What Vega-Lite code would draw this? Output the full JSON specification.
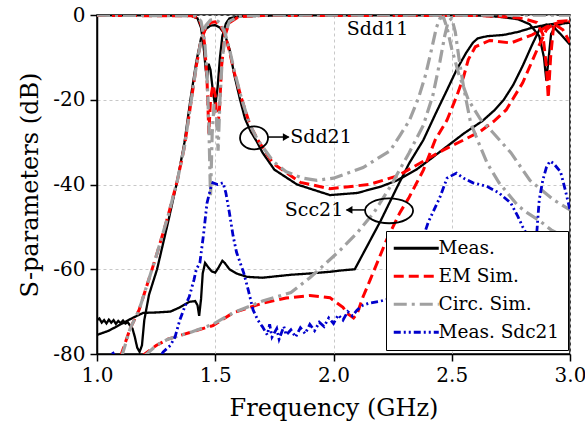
{
"$schema":"https://vega.github.io/schema/vega-lite/v6.json",
"width":473,"height":339,
"autosize":{"type":"none"},
"padding":{"left":97,"top":15,"right":15,"bottom":78},
"background":"white",
"config":{
 "font":"DejaVu Serif",
 "view":{"stroke":"black","strokeWidth":1.5},
 "axis":{"labelFont":"DejaVu Serif","titleFont":"DejaVu Serif","labelFontSize":20,"titleFontSize":24,"titleFontWeight":"normal","labelColor":"black","titleColor":"black","domainColor":"black","domainWidth":1.5,"tickColor":"black","tickWidth":1.5,"tickSize":7,"gridColor":"#c8c8c8","gridDash":[3,3],"gridWidth":1,"labelFlush":false}
},
"datasets":{
"series":[
{"c":"m11","g":"Meas."},{"c":"m21","g":"Meas."},{"c":"mc","g":"Meas."},
{"c":"e11","g":"EM Sim."},{"c":"e21","g":"EM Sim."},{"c":"ec","g":"EM Sim."},
{"c":"c11","g":"Circ. Sim."},{"c":"c21","g":"Circ. Sim."},{"c":"cc","g":"Circ. Sim."},
{"c":"b","g":"Meas. Sdc21"}],
"pts":[
{"c":"m11","f":1.0,"s":-0.1},{"c":"m11","f":1.2,"s":-0.1},{"c":"m11","f":1.4,"s":-0.2},{"c":"m11","f":1.425,"s":-0.8},{"c":"m11","f":1.44,"s":-3},{"c":"m11","f":1.45,"s":-7},{"c":"m11","f":1.46,"s":-13},{"c":"m11","f":1.465,"s":-15},{"c":"m11","f":1.472,"s":-11.5},{"c":"m11","f":1.48,"s":-13},{"c":"m11","f":1.49,"s":-18},{"c":"m11","f":1.5,"s":-21.5},{"c":"m11","f":1.51,"s":-17},{"c":"m11","f":1.52,"s":-10},{"c":"m11","f":1.53,"s":-5},{"c":"m11","f":1.545,"s":-2},{"c":"m11","f":1.56,"s":-0.8},{"c":"m11","f":1.6,"s":-0.3},{"c":"m11","f":1.8,"s":-0.1},{"c":"m11","f":2.6,"s":-0.1},{"c":"m11","f":2.7,"s":-0.4},{"c":"m11","f":2.78,"s":-1},{"c":"m11","f":2.83,"s":-2.2},{"c":"m11","f":2.87,"s":-5},{"c":"m11","f":2.89,"s":-10},{"c":"m11","f":2.9,"s":-15.5},{"c":"m11","f":2.91,"s":-10},{"c":"m11","f":2.92,"s":-4.5},{"c":"m11","f":2.94,"s":-2.5},{"c":"m11","f":2.97,"s":-2},{"c":"m11","f":3.0,"s":-1.8},
{"c":"m21","f":1.0,"s":-72},{"c":"m21","f":1.01,"s":-71.6},{"c":"m21","f":1.02,"s":-72.6},{"c":"m21","f":1.03,"s":-72},{"c":"m21","f":1.04,"s":-72.8},{"c":"m21","f":1.05,"s":-71.9},{"c":"m21","f":1.06,"s":-72.6},{"c":"m21","f":1.07,"s":-72},{"c":"m21","f":1.08,"s":-72.9},{"c":"m21","f":1.09,"s":-72.2},{"c":"m21","f":1.1,"s":-72.7},{"c":"m21","f":1.11,"s":-72.1},{"c":"m21","f":1.12,"s":-72.8},{"c":"m21","f":1.13,"s":-72.5},{"c":"m21","f":1.14,"s":-73.3},{"c":"m21","f":1.15,"s":-74},{"c":"m21","f":1.16,"s":-76},{"c":"m21","f":1.17,"s":-78.5},{"c":"m21","f":1.18,"s":-79.5},{"c":"m21","f":1.19,"s":-78},{"c":"m21","f":1.2,"s":-72},{"c":"m21","f":1.22,"s":-66},{"c":"m21","f":1.254,"s":-60},{"c":"m21","f":1.3,"s":-49},{"c":"m21","f":1.34,"s":-39},{"c":"m21","f":1.37,"s":-30},{"c":"m21","f":1.395,"s":-20},{"c":"m21","f":1.42,"s":-11},{"c":"m21","f":1.44,"s":-5.5},{"c":"m21","f":1.46,"s":-3.3},{"c":"m21","f":1.48,"s":-2.5},{"c":"m21","f":1.5,"s":-2.4},{"c":"m21","f":1.52,"s":-3},{"c":"m21","f":1.54,"s":-4.5},{"c":"m21","f":1.56,"s":-8},{"c":"m21","f":1.58,"s":-14},{"c":"m21","f":1.605,"s":-20},{"c":"m21","f":1.626,"s":-24.5},{"c":"m21","f":1.65,"s":-27.5},{"c":"m21","f":1.677,"s":-30},{"c":"m21","f":1.7,"s":-32.5},{"c":"m21","f":1.75,"s":-36.5},{"c":"m21","f":1.846,"s":-40},{"c":"m21","f":1.985,"s":-42.5},{"c":"m21","f":2.1,"s":-42},{"c":"m21","f":2.2,"s":-40.5},{"c":"m21","f":2.27,"s":-39},{"c":"m21","f":2.35,"s":-36.5},{"c":"m21","f":2.41,"s":-34},{"c":"m21","f":2.48,"s":-31},{"c":"m21","f":2.55,"s":-28},{"c":"m21","f":2.63,"s":-25},{"c":"m21","f":2.68,"s":-22.5},{"c":"m21","f":2.72,"s":-20},{"c":"m21","f":2.76,"s":-16.5},{"c":"m21","f":2.8,"s":-12},{"c":"m21","f":2.84,"s":-7},{"c":"m21","f":2.87,"s":-3.5},{"c":"m21","f":2.9,"s":-2.3},{"c":"m21","f":2.93,"s":-2.8},{"c":"m21","f":2.96,"s":-4.5},{"c":"m21","f":3.0,"s":-7},
{"c":"mc","f":1.0,"s":-75.5},{"c":"mc","f":1.05,"s":-74.5},{"c":"mc","f":1.1,"s":-73},{"c":"mc","f":1.15,"s":-71.5},{"c":"mc","f":1.195,"s":-70.3},{"c":"mc","f":1.25,"s":-70.2},{"c":"mc","f":1.31,"s":-70},{"c":"mc","f":1.35,"s":-69},{"c":"mc","f":1.39,"s":-67.7},{"c":"mc","f":1.415,"s":-67.5},{"c":"mc","f":1.425,"s":-68.5},{"c":"mc","f":1.432,"s":-71},{"c":"mc","f":1.44,"s":-67},{"c":"mc","f":1.447,"s":-61},{"c":"mc","f":1.457,"s":-58.5},{"c":"mc","f":1.47,"s":-59.5},{"c":"mc","f":1.485,"s":-60.5},{"c":"mc","f":1.5,"s":-60.8},{"c":"mc","f":1.515,"s":-59.5},{"c":"mc","f":1.53,"s":-58},{"c":"mc","f":1.54,"s":-58.5},{"c":"mc","f":1.56,"s":-60},{"c":"mc","f":1.59,"s":-61},{"c":"mc","f":1.634,"s":-61.8},{"c":"mc","f":1.7,"s":-62},{"c":"mc","f":1.82,"s":-61.3},{"c":"mc","f":1.9,"s":-61},{"c":"mc","f":1.985,"s":-60.6},{"c":"mc","f":2.03,"s":-60.3},{"c":"mc","f":2.09,"s":-60},{"c":"mc","f":2.2,"s":-48.5},{"c":"mc","f":2.27,"s":-40.5},{"c":"mc","f":2.32,"s":-35},{"c":"mc","f":2.38,"s":-29.5},{"c":"mc","f":2.43,"s":-23.5},{"c":"mc","f":2.48,"s":-17.7},{"c":"mc","f":2.52,"s":-13},{"c":"mc","f":2.56,"s":-9},{"c":"mc","f":2.59,"s":-6.5},{"c":"mc","f":2.61,"s":-5.5},{"c":"mc","f":2.65,"s":-5},{"c":"mc","f":2.72,"s":-4.7},{"c":"mc","f":2.78,"s":-4},{"c":"mc","f":2.84,"s":-3},{"c":"mc","f":2.9,"s":-2.3},{"c":"mc","f":2.95,"s":-2},{"c":"mc","f":3.0,"s":-1.8},
{"c":"e11","f":1.0,"s":-0.1},{"c":"e11","f":1.4,"s":-0.2},{"c":"e11","f":1.43,"s":-0.8},{"c":"e11","f":1.445,"s":-3},{"c":"e11","f":1.455,"s":-7},{"c":"e11","f":1.465,"s":-15},{"c":"e11","f":1.473,"s":-28},{"c":"e11","f":1.48,"s":-20},{"c":"e11","f":1.49,"s":-16.5},{"c":"e11","f":1.5,"s":-19},{"c":"e11","f":1.51,"s":-27},{"c":"e11","f":1.518,"s":-22},{"c":"e11","f":1.527,"s":-12},{"c":"e11","f":1.54,"s":-5},{"c":"e11","f":1.56,"s":-1.8},{"c":"e11","f":1.6,"s":-0.4},{"c":"e11","f":1.7,"s":-0.1},{"c":"e11","f":2.6,"s":-0.1},{"c":"e11","f":2.72,"s":-0.4},{"c":"e11","f":2.8,"s":-0.8},{"c":"e11","f":2.86,"s":-1.8},{"c":"e11","f":2.885,"s":-4.5},{"c":"e11","f":2.9,"s":-12},{"c":"e11","f":2.908,"s":-19.6},{"c":"e11","f":2.918,"s":-10},{"c":"e11","f":2.93,"s":-3},{"c":"e11","f":2.95,"s":-1.5},{"c":"e11","f":3.0,"s":-1.3},
{"c":"e21","f":1.1,"s":-80.5},{"c":"e21","f":1.14,"s":-74},{"c":"e21","f":1.178,"s":-69.6},{"c":"e21","f":1.21,"s":-64},{"c":"e21","f":1.25,"s":-57},{"c":"e21","f":1.3,"s":-47.5},{"c":"e21","f":1.34,"s":-39},{"c":"e21","f":1.37,"s":-31},{"c":"e21","f":1.395,"s":-21.5},{"c":"e21","f":1.42,"s":-12},{"c":"e21","f":1.44,"s":-6},{"c":"e21","f":1.46,"s":-3},{"c":"e21","f":1.48,"s":-1.8},{"c":"e21","f":1.5,"s":-1.6},{"c":"e21","f":1.52,"s":-2.2},{"c":"e21","f":1.54,"s":-4.5},{"c":"e21","f":1.56,"s":-8.5},{"c":"e21","f":1.58,"s":-13.5},{"c":"e21","f":1.61,"s":-19.5},{"c":"e21","f":1.647,"s":-26},{"c":"e21","f":1.68,"s":-29.5},{"c":"e21","f":1.744,"s":-35},{"c":"e21","f":1.86,"s":-39.5},{"c":"e21","f":1.985,"s":-41},{"c":"e21","f":2.15,"s":-40},{"c":"e21","f":2.27,"s":-38},{"c":"e21","f":2.38,"s":-34.5},{"c":"e21","f":2.46,"s":-32},{"c":"e21","f":2.55,"s":-29.5},{"c":"e21","f":2.62,"s":-27.5},{"c":"e21","f":2.68,"s":-25},{"c":"e21","f":2.73,"s":-22.4},{"c":"e21","f":2.8,"s":-16},{"c":"e21","f":2.86,"s":-8.3},{"c":"e21","f":2.9,"s":-3.5},{"c":"e21","f":2.93,"s":-2},{"c":"e21","f":2.97,"s":-3.5},{"c":"e21","f":3.0,"s":-6.5},
{"c":"ec","f":1.19,"s":-80.5},{"c":"ec","f":1.25,"s":-78},{"c":"ec","f":1.3,"s":-76.5},{"c":"ec","f":1.4,"s":-74.8},{"c":"ec","f":1.49,"s":-73.3},{"c":"ec","f":1.575,"s":-70.3},{"c":"ec","f":1.7,"s":-68},{"c":"ec","f":1.8,"s":-66.8},{"c":"ec","f":1.9,"s":-66.2},{"c":"ec","f":1.985,"s":-66.7},{"c":"ec","f":2.04,"s":-69},{"c":"ec","f":2.06,"s":-70.5},{"c":"ec","f":2.085,"s":-71.5},{"c":"ec","f":2.1,"s":-70.5},{"c":"ec","f":2.125,"s":-66.5},{"c":"ec","f":2.155,"s":-62.5},{"c":"ec","f":2.225,"s":-53},{"c":"ec","f":2.28,"s":-46.7},{"c":"ec","f":2.32,"s":-43},{"c":"ec","f":2.38,"s":-36.6},{"c":"ec","f":2.43,"s":-29.5},{"c":"ec","f":2.48,"s":-24.8},{"c":"ec","f":2.52,"s":-19.3},{"c":"ec","f":2.55,"s":-14.6},{"c":"ec","f":2.57,"s":-10.5},{"c":"ec","f":2.6,"s":-7.5},{"c":"ec","f":2.66,"s":-6},{"c":"ec","f":2.75,"s":-6.6},{"c":"ec","f":2.84,"s":-4.7},{"c":"ec","f":2.9,"s":-2.8},{"c":"ec","f":2.95,"s":-1.8},{"c":"ec","f":3.0,"s":-1.5},
{"c":"c11","f":1.0,"s":-0.05},{"c":"c11","f":1.42,"s":-0.2},{"c":"c11","f":1.44,"s":-1.5},{"c":"c11","f":1.455,"s":-6},{"c":"c11","f":1.465,"s":-14},{"c":"c11","f":1.473,"s":-26},{"c":"c11","f":1.48,"s":-43},{"c":"c11","f":1.487,"s":-28},{"c":"c11","f":1.495,"s":-21},{"c":"c11","f":1.505,"s":-24},{"c":"c11","f":1.512,"s":-32},{"c":"c11","f":1.52,"s":-20},{"c":"c11","f":1.53,"s":-10},{"c":"c11","f":1.545,"s":-4},{"c":"c11","f":1.56,"s":-1.5},{"c":"c11","f":1.6,"s":-0.3},{"c":"c11","f":1.7,"s":-0.05},{"c":"c11","f":3.0,"s":-0.05},
{"c":"c21","f":1.105,"s":-80.5},{"c":"c21","f":1.14,"s":-74},{"c":"c21","f":1.178,"s":-69.6},{"c":"c21","f":1.21,"s":-64},{"c":"c21","f":1.25,"s":-57},{"c":"c21","f":1.3,"s":-47.5},{"c":"c21","f":1.34,"s":-39},{"c":"c21","f":1.37,"s":-31},{"c":"c21","f":1.395,"s":-21.5},{"c":"c21","f":1.42,"s":-12},{"c":"c21","f":1.44,"s":-6},{"c":"c21","f":1.46,"s":-2.5},{"c":"c21","f":1.48,"s":-1.2},{"c":"c21","f":1.5,"s":-1.1},{"c":"c21","f":1.52,"s":-1.8},{"c":"c21","f":1.54,"s":-4},{"c":"c21","f":1.56,"s":-8},{"c":"c21","f":1.58,"s":-13},{"c":"c21","f":1.61,"s":-19.5},{"c":"c21","f":1.647,"s":-26},{"c":"c21","f":1.68,"s":-29.5},{"c":"c21","f":1.744,"s":-34.5},{"c":"c21","f":1.8,"s":-37},{"c":"c21","f":1.87,"s":-38.5},{"c":"c21","f":1.93,"s":-39},{"c":"c21","f":2.0,"s":-38.5},{"c":"c21","f":2.125,"s":-36},{"c":"c21","f":2.24,"s":-32},{"c":"c21","f":2.28,"s":-28.5},{"c":"c21","f":2.32,"s":-25},{"c":"c21","f":2.36,"s":-19.5},{"c":"c21","f":2.39,"s":-14},{"c":"c21","f":2.415,"s":-8},{"c":"c21","f":2.435,"s":-3},{"c":"c21","f":2.45,"s":-0.8},{"c":"c21","f":2.465,"s":-0.5},{"c":"c21","f":2.48,"s":-3},{"c":"c21","f":2.5,"s":-8},{"c":"c21","f":2.53,"s":-14},{"c":"c21","f":2.57,"s":-20},{"c":"c21","f":2.62,"s":-24.5},{"c":"c21","f":2.67,"s":-27.5},{"c":"c21","f":2.75,"s":-32.5},{"c":"c21","f":2.83,"s":-39},{"c":"c21","f":2.93,"s":-43.6},{"c":"c21","f":3.0,"s":-46},
{"c":"cc","f":1.2,"s":-80.5},{"c":"cc","f":1.25,"s":-78},{"c":"cc","f":1.3,"s":-76.5},{"c":"cc","f":1.4,"s":-74.8},{"c":"cc","f":1.49,"s":-73},{"c":"cc","f":1.575,"s":-70.3},{"c":"cc","f":1.7,"s":-67.5},{"c":"cc","f":1.82,"s":-65.5},{"c":"cc","f":1.9,"s":-62},{"c":"cc","f":1.96,"s":-59},{"c":"cc","f":2.03,"s":-55.4},{"c":"cc","f":2.1,"s":-51.4},{"c":"cc","f":2.17,"s":-46.7},{"c":"cc","f":2.24,"s":-40.5},{"c":"cc","f":2.32,"s":-32.5},{"c":"cc","f":2.38,"s":-26},{"c":"cc","f":2.42,"s":-19},{"c":"cc","f":2.45,"s":-11},{"c":"cc","f":2.47,"s":-5},{"c":"cc","f":2.485,"s":-1.5},{"c":"cc","f":2.5,"s":-0.8},{"c":"cc","f":2.515,"s":-4},{"c":"cc","f":2.53,"s":-10},{"c":"cc","f":2.55,"s":-17},{"c":"cc","f":2.58,"s":-25.5},{"c":"cc","f":2.62,"s":-31},{"c":"cc","f":2.65,"s":-35},{"c":"cc","f":2.7,"s":-39.6},{"c":"cc","f":2.78,"s":-45},{"c":"cc","f":2.82,"s":-46.7},{"c":"cc","f":2.87,"s":-48.5},{"c":"cc","f":2.92,"s":-50.7},{"c":"cc","f":3.0,"s":-53},
{"c":"b","f":1.0,"s":-82},{"c":"b","f":1.05,"s":-81},{"c":"b","f":1.065,"s":-79.5},{"c":"b","f":1.08,"s":-81},{"c":"b","f":1.15,"s":-83},{"c":"b","f":1.25,"s":-82},{"c":"b","f":1.28,"s":-79.5},{"c":"b","f":1.31,"s":-78},{"c":"b","f":1.33,"s":-76},{"c":"b","f":1.35,"s":-72},{"c":"b","f":1.37,"s":-69},{"c":"b","f":1.39,"s":-66.5},{"c":"b","f":1.41,"s":-62.5},{"c":"b","f":1.42,"s":-60},{"c":"b","f":1.435,"s":-58.5},{"c":"b","f":1.45,"s":-52},{"c":"b","f":1.465,"s":-44.4},{"c":"b","f":1.48,"s":-41},{"c":"b","f":1.49,"s":-39.6},{"c":"b","f":1.51,"s":-40},{"c":"b","f":1.533,"s":-39.6},{"c":"b","f":1.545,"s":-42},{"c":"b","f":1.56,"s":-46.7},{"c":"b","f":1.575,"s":-52},{"c":"b","f":1.59,"s":-56},{"c":"b","f":1.62,"s":-60.8},{"c":"b","f":1.64,"s":-65},{"c":"b","f":1.66,"s":-69.6},{"c":"b","f":1.68,"s":-72},{"c":"b","f":1.7,"s":-73.6},{"c":"b","f":1.72,"s":-75.5},{"c":"b","f":1.73,"s":-73},{"c":"b","f":1.74,"s":-76},{"c":"b","f":1.76,"s":-74},{"c":"b","f":1.77,"s":-76.5},{"c":"b","f":1.79,"s":-73.5},{"c":"b","f":1.8,"s":-75.5},{"c":"b","f":1.82,"s":-74.3},{"c":"b","f":1.84,"s":-76},{"c":"b","f":1.86,"s":-73.8},{"c":"b","f":1.88,"s":-75.2},{"c":"b","f":1.9,"s":-73},{"c":"b","f":1.92,"s":-74.5},{"c":"b","f":1.94,"s":-72.5},{"c":"b","f":1.96,"s":-73.5},{"c":"b","f":1.98,"s":-71.5},{"c":"b","f":2.0,"s":-72.8},{"c":"b","f":2.02,"s":-70.8},{"c":"b","f":2.04,"s":-72},{"c":"b","f":2.06,"s":-70},{"c":"b","f":2.08,"s":-71},{"c":"b","f":2.1,"s":-69.6},{"c":"b","f":2.125,"s":-68.5},{"c":"b","f":2.15,"s":-68},{"c":"b","f":2.2,"s":-67.5},{"c":"b","f":2.27,"s":-66.5},{"c":"b","f":2.3,"s":-63},{"c":"b","f":2.34,"s":-58.5},{"c":"b","f":2.37,"s":-54},{"c":"b","f":2.4,"s":-49},{"c":"b","f":2.45,"s":-43},{"c":"b","f":2.48,"s":-38.5},{"c":"b","f":2.52,"s":-37.3},{"c":"b","f":2.55,"s":-38.5},{"c":"b","f":2.59,"s":-39.6},{"c":"b","f":2.62,"s":-40},{"c":"b","f":2.65,"s":-40.5},{"c":"b","f":2.7,"s":-42},{"c":"b","f":2.75,"s":-44.4},{"c":"b","f":2.78,"s":-47.6},{"c":"b","f":2.8,"s":-50},{"c":"b","f":2.83,"s":-53},{"c":"b","f":2.86,"s":-51},{"c":"b","f":2.87,"s":-43.6},{"c":"b","f":2.885,"s":-39},{"c":"b","f":2.9,"s":-36},{"c":"b","f":2.915,"s":-34.5},{"c":"b","f":2.93,"s":-35},{"c":"b","f":2.96,"s":-37},{"c":"b","f":2.98,"s":-41.3},{"c":"b","f":3.0,"s":-46}
]},
"encoding":{
 "x":{"field":"f","type":"quantitative","title":"Frequency (GHz)","scale":{"domain":[1,3],"nice":false,"zero":false},
  "axis":{"values":[1,1.5,2,2.5,3],"format":".1f","labelPadding":4,"titlePadding":11}},
 "y":{"field":"s","type":"quantitative","title":"S-parameters (dB)","scale":{"domain":[-80,0],"nice":false},
  "axis":{"values":[-80,-60,-40,-20,0],"labelExpr":"datum.value == 0 ? '0' : '-' + abs(datum.value)","labelPadding":5,"titlePadding":10}}
},
"layer":[
 {"data":{"name":"pts"},
  "transform":[{"lookup":"c","from":{"data":{"name":"series"},"key":"c","fields":["g"]}}],
  "encoding":{
   "color":{"field":"g","type":"nominal","scale":{"domain":["Meas.","EM Sim.","Circ. Sim.","Meas. Sdc21"],"range":["#000000","#ff0000","#a0a0a0","#0000cc"]},
     "legend":{"orient":"none","legendX":289,"legendY":216,"title":null,"symbolType":"M-3,0L3,0","symbolSize":225,"symbolStrokeWidth":2.8,"symbolOffset":13,"labelOffset":13,"labelFontSize":18.5,"labelFont":"DejaVu Serif","labelColor":"black","fillColor":"white","strokeColor":"black","padding":8,"rowPadding":9,"labelLimit":300}},
   "strokeDash":{"field":"g","type":"nominal","scale":{"domain":["Meas.","EM Sim.","Circ. Sim.","Meas. Sdc21"],"range":[[1,0],[10,5],[13,5,3,5],[7,3,2,3,2,3]]},
     "legend":{"orient":"none","legendX":289,"legendY":216,"title":null,"symbolType":"M-3,0L3,0","symbolSize":225,"symbolStrokeWidth":2.8,"symbolOffset":13,"labelOffset":13,"labelFontSize":18.5,"labelFont":"DejaVu Serif","labelColor":"black","fillColor":"white","strokeColor":"black","padding":8,"rowPadding":9,"labelLimit":300}},
   "detail":{"field":"c"}
  },
  "layer":[
   {"transform":[{"filter":"datum.g === 'Meas.'"}],"mark":{"type":"line","strokeWidth":2.3,"clip":true}},
   {"transform":[{"filter":"datum.g === 'EM Sim.'"}],"mark":{"type":"line","strokeWidth":3,"clip":true}},
   {"transform":[{"filter":"datum.g === 'Circ. Sim.'"}],"mark":{"type":"line","strokeWidth":3.2,"clip":true}},
   {"transform":[{"filter":"datum.g === 'Meas. Sdc21'"}],"mark":{"type":"line","strokeWidth":2.8,"clip":true}}
  ]},
 {"data":{"values":[{"f":1.947,"s":-28.8,"t":"Sdd21"},{"f":1.9175,"s":-46,"t":"Scc21"},{"f":2.186,"s":-3.3,"t":"Sdd11"}]},
  "mark":{"type":"text","font":"DejaVu Serif","fontSize":19,"color":"black","baseline":"middle","align":"center"},
  "encoding":{"text":{"field":"t"}}},
 {"data":{"values":[{"f":1.664,"s":-29}]},
  "mark":{"type":"point","shape":"M-1,0A1,0.82,0,1,1,1,0A1,0.82,0,1,1,-1,0Z","size":784,"filled":false,"stroke":"black","strokeWidth":1.8,"opacity":1}},
 {"data":{"values":[{"f":2.235,"s":-46.2}]},
  "mark":{"type":"point","shape":"M-1,0A1,0.52,0,1,1,1,0A1,0.52,0,1,1,-1,0Z","size":2304,"filled":false,"stroke":"black","strokeWidth":1.8,"opacity":1}},
 {"data":{"values":[{"f":1.723,"f2":1.81,"s":-28.8},{"f":2.055,"f2":2.133,"s":-46}]},
  "mark":{"type":"rule","color":"black","strokeWidth":1.5},
  "encoding":{"x2":{"field":"f2"}}},
 {"data":{"values":[{"f":1.8,"s":-28.8}]},
  "mark":{"type":"point","shape":"triangle-right","size":60,"filled":true,"color":"black","opacity":1}},
 {"data":{"values":[{"f":2.066,"s":-46}]},
  "mark":{"type":"point","shape":"triangle-left","size":60,"filled":true,"color":"black","opacity":1}}
]
}
